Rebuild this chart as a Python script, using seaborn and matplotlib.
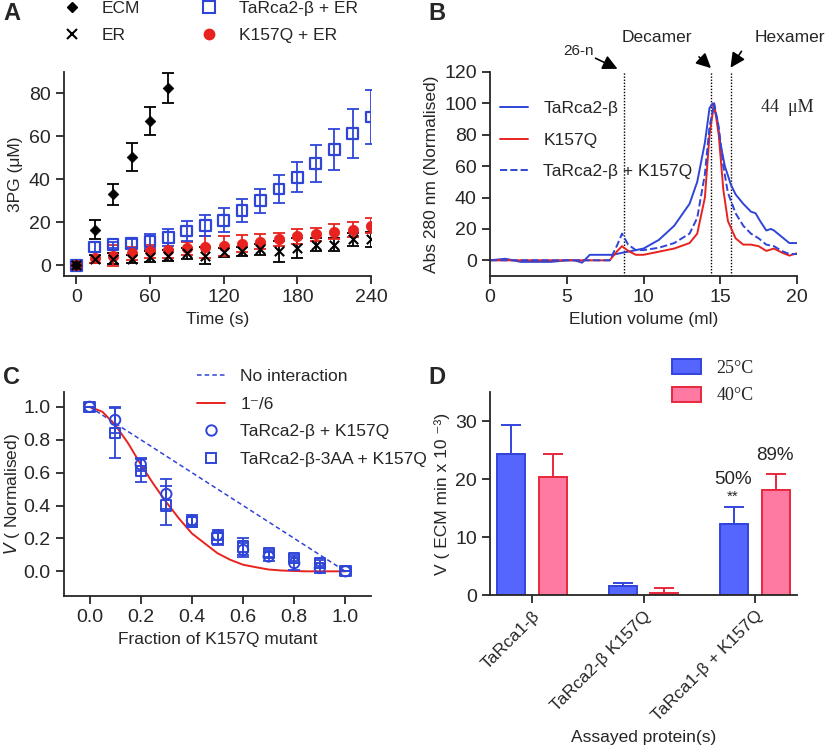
import matplotlib
matplotlib.use("Agg")
import matplotlib.pyplot as plt
from matplotlib.lines import Line2D
from matplotlib.patches import Patch, FancyArrowPatch
import seaborn as sns
import pandas as pd

# ---- data ----
# A: 3PG over time
time_s = [0, 15, 30, 45, 60, 75, 90, 105, 120, 135, 150, 165, 180, 195, 210, 225, 240]
ecm_t = [0, 15, 30, 45, 60, 75]
ecm = [0, 16.5, 33, 50.5, 67, 82.5]
ecm_err = [0, 4.5, 5, 6.5, 6.5, 7]
er = [0, 3, 3, 3, 4, 4.5, 5.5, 4.5, 6, 6.5, 7.5, 6.5, 8, 9.5, 9.5, 12, 12]
er_err = [0, 2, 2.5, 2, 2.5, 2.5, 2.5, 4, 2, 2, 2.5, 5, 4.5, 3, 3, 3, 3.5]
rca2 = [0, 8.5, 9.5, 10, 11, 13, 16, 18.5, 21, 25.5, 30, 35.5, 41, 47.5, 54, 61.5, 69]
rca2_err = [0, 2.5, 1.5, 2, 3.5, 4, 4.5, 5, 5.5, 5.5, 5.5, 6.5, 7, 8.5, 9.5, 11.5, 12.5]
k157q = [0, 3.5, 4.5, 5.5, 6.5, 7, 8, 8.5, 9, 10, 11, 12, 13.5, 14.5, 15.5, 16.5, 18.5]
k157q_err = [0, 2.5, 5, 3, 3, 3.5, 3, 5, 4.5, 4, 3.5, 3, 3.5, 3, 3.5, 3.5, 3.5]

# B: SEC traces
vol_wt = [0, 0.5, 1, 1.5, 2, 3, 4, 5, 5.5, 6, 6.5, 7, 8, 8.7, 9, 10, 11, 12, 13, 13.5, 14, 14.3,
          14.5, 14.8, 15, 15.3, 15.7, 16, 16.5, 17, 17.3, 17.6, 18, 18.3, 18.5, 19, 19.5, 20]
abs_wt = [0, 0.5, 1, 0, -1, -1, -1, 0, 0, -1.5, 3.5, 3.5, 3.5, 5, 5.5, 7.5, 13, 22, 36, 50, 75, 97,
          100, 90, 75, 60, 48, 42, 36, 31, 30, 25, 19, 20, 19, 15, 11, 11]
vol_mut = [0, 2, 4, 6, 7.8, 8.3, 8.6, 9, 9.5, 10, 11, 12, 13, 13.5, 14, 14.3, 14.6, 14.9, 15.2,
           15.5, 16, 16.5, 17, 17.5, 18, 18.5, 19, 19.5, 20]
abs_k157q = [0, 0, 0, 0, 0, 6, 9, 6, 3.5, 3.5, 5.5, 7.5, 11, 17, 40, 80, 100, 80, 45,
             25, 14, 10, 10, 9, 6, 7.5, 5, 3, 4.5]
abs_mix = [0, 0, 0, 0, 0, 10, 17, 10, 6.5, 6.5, 8, 11, 17, 27, 55, 85, 100, 85, 60,
           43, 30, 22, 17, 14, 10, 9, 6, 4, 4]
marker_vols = [8.7, 14.4, 15.7]

# C: activity vs fraction of mutant
frac = [0, 0.1, 0.2, 0.3, 0.4, 0.5, 0.6, 0.7, 0.8, 0.9, 1.0]
v_wt = [1.0, 0.92, 0.65, 0.47, 0.31, 0.22, 0.13, 0.09, 0.05, 0.02, 0.0]
v_wt_err = [0, 0.08, 0.04, 0.09, 0.03, 0.03, 0.04, 0.03, 0.04, 0.03, 0]
v_3aa = [1.0, 0.84, 0.61, 0.40, 0.30, 0.20, 0.15, 0.11, 0.08, 0.05, 0.0]
v_3aa_err = [0, 0.15, 0.07, 0.12, 0.03, 0.04, 0.05, 0.02, 0.02, 0.02, 0]
fit_x = [0, 0.05, 0.1, 0.15, 0.2, 0.25, 0.3, 0.35, 0.4, 0.45, 0.5, 0.55, 0.6, 0.65, 0.7,
         0.75, 0.8, 0.85, 0.9, 0.95, 1.0]
fit_y = [1.0, 0.97, 0.89, 0.78, 0.65, 0.53, 0.42, 0.32, 0.23, 0.17, 0.11, 0.07, 0.04, 0.025,
         0.011, 0.005, 0.002, 0.0, 0.0, 0.0, 0.0]

# D: bars
proteins = ["TaRca1-β", "TaRca2-β K157Q", "TaRca1-β + K157Q"]
temps = ["25°C", "40°C"]
v25 = [24.3, 1.5, 12.2]
v25_err = [5.0, 0.5, 2.9]
v40 = [20.3, 0.3, 18.1]
v40_err = [4.0, 0.9, 2.7]

# ---- style ----
sns.set_style("ticks")
plt.rcParams["font.family"] = ["Liberation Sans", "DejaVu Sans"]
plt.rcParams["font.size"] = 12.5
plt.rcParams["axes.linewidth"] = 1.3
plt.rcParams["xtick.major.width"] = 1.3
plt.rcParams["ytick.major.width"] = 1.3
plt.rcParams["xtick.major.size"] = 6
plt.rcParams["ytick.major.size"] = 6
plt.rcParams["xtick.labelsize"] = 14
plt.rcParams["ytick.labelsize"] = 14

W, H = 827, 753
BLUE = "#2f45d8"
RED = "#e8231f"
SERIF = ["Liberation Serif", "DejaVu Serif"]


def fp(x, y):
    return (x / W, 1 - y / H)


def box(l, t, r, b):
    return [l / W, 1 - b / H, (r - l) / W, (b - t) / H]


fig = plt.figure(figsize=(W / 100, H / 100), dpi=100)
axA = fig.add_axes(box(64, 72, 371, 276))
axB = fig.add_axes(box(490, 72, 797, 276))
axC = fig.add_axes(box(64, 392, 371, 596))
axD = fig.add_axes(box(490, 392, 797, 595))

leg_kw = dict(frameon=False, loc="upper left", bbox_transform=fig.transFigure,
              borderpad=0, borderaxespad=0, fontsize=12.5)

# ---- A ----
eb = dict(fmt="none", elinewidth=1.3, capsize=4, capthick=1.3)
axA.errorbar(time_s, er, yerr=er_err, ecolor="black", **eb)
axA.errorbar(time_s, k157q, yerr=k157q_err, ecolor=RED, **eb)
axA.errorbar(time_s, rca2, yerr=rca2_err, ecolor=BLUE, **eb)
axA.errorbar(ecm_t, ecm, yerr=ecm_err, ecolor="black", **eb)
sns.scatterplot(x=time_s, y=rca2, marker="s", s=60, facecolors="none", edgecolor=BLUE, linewidth=1.6, ax=axA, zorder=3)
sns.scatterplot(x=time_s, y=k157q, marker="o", s=55, color=RED, edgecolor=RED, ax=axA, zorder=4)
sns.scatterplot(x=time_s, y=er, marker="x", s=45, color="black", linewidth=1.5, ax=axA, zorder=5)
sns.scatterplot(x=ecm_t, y=ecm, marker="D", s=30, color="black", edgecolor="black", ax=axA, zorder=5)
axA.set_xlim(-10, 240)
axA.set_ylim(-5, 90)
axA.set_xticks([0, 60, 120, 180, 240])
axA.set_yticks([0, 20, 40, 60, 80])
axA.set_xlabel("Time (s)")
axA.set_ylabel("3PG (μM)")
sns.despine(ax=axA)
handlesA = [
    Line2D([], [], ls="none", marker="D", ms=5, color="black"),
    Line2D([], [], ls="none", marker="x", ms=7, mew=1.5, color="black"),
    Line2D([], [], ls="none", marker="s", ms=8, mfc="none", mec=BLUE, mew=1.5),
    Line2D([], [], ls="none", marker="o", ms=7.5, color=RED),
]
axA.legend(handlesA, ["ECM", "ER", "TaRca2-β + ER", "K157Q + ER"], ncol=2,
           bbox_to_anchor=fp(63, 1), handlelength=1.0, handletextpad=1.2,
           columnspacing=3.5, labelspacing=0.65, **leg_kw)

# ---- B ----
sns.lineplot(x=vol_wt, y=abs_wt, color=BLUE, lw=1.4, ax=axB)
sns.lineplot(x=vol_mut, y=abs_k157q, color=RED, lw=1.4, ax=axB)
sns.lineplot(x=vol_mut, y=abs_mix, color=BLUE, lw=1.4, ls="--", ax=axB)
for v in marker_vols:
    axB.axvline(v, color="black", lw=1.0, ls=(0, (1, 1.2)), zorder=0)
axB.set_xlim(0, 20)
axB.set_ylim(-10, 120)
axB.set_xticks([0, 5, 10, 15, 20])
axB.set_yticks([0, 20, 40, 60, 80, 100, 120])
axB.set_xlabel("Elution volume (ml)")
axB.set_ylabel("Abs 280 nm (Normalised)")
sns.despine(ax=axB)
handlesB = [Line2D([], [], color=BLUE, lw=1.4), Line2D([], [], color=RED, lw=1.4),
            Line2D([], [], color=BLUE, lw=1.4, ls="--")]
axB.legend(handlesB, ["TaRca2-β", "K157Q", "TaRca2-β + K157Q"], bbox_to_anchor=fp(500, 101),
           handlelength=1.6, handletextpad=0.9, labelspacing=0.95, **leg_kw)
fig.text(*fp(787, 108), "44  μM", family=SERIF, fontsize=13, ha="center", va="center")
fig.text(*fp(578, 51), "26-n", fontsize=11, ha="center", va="center")
fig.text(*fp(657, 38), "Decamer", fontsize=12.5, ha="center", va="center")
fig.text(*fp(790, 38), "Hexamer", fontsize=12.5, ha="center", va="center")
for (x0, y0), (x1, y1) in [((593, 57), (620, 70)), ((697, 55), (713, 70)), ((743, 49), (729, 70))]:
    fig.add_artist(FancyArrowPatch(fp(x0, y0), fp(x1, y1), transform=fig.transFigure,
                                   arrowstyle="-|>", color="black", lw=1.2, mutation_scale=22))

# ---- C ----
sns.lineplot(x=[0, 1], y=[1, 0], color=BLUE, lw=1.1, ls=(0, (3, 2)), ax=axC)
sns.lineplot(x=fit_x, y=fit_y, color=RED, lw=1.4, ax=axC)
axC.errorbar(frac, v_wt, yerr=v_wt_err, ecolor=BLUE, **eb)
axC.errorbar(frac, v_3aa, yerr=v_3aa_err, ecolor=BLUE, **eb)
sns.scatterplot(x=frac, y=v_wt, marker="o", s=55, facecolors="none", edgecolor=BLUE, linewidth=1.4, ax=axC, zorder=3)
sns.scatterplot(x=frac, y=v_3aa, marker="s", s=55, facecolors="none", edgecolor=BLUE, linewidth=1.4, ax=axC, zorder=3)
axC.set_xlim(-0.1, 1.1)
axC.set_ylim(-0.15, 1.09)
axC.set_xticks([0, 0.2, 0.4, 0.6, 0.8, 1.0])
axC.set_yticks([0, 0.2, 0.4, 0.6, 0.8, 1.0])
axC.xaxis.set_major_formatter(plt.FormatStrFormatter("%.1f"))
axC.yaxis.set_major_formatter(plt.FormatStrFormatter("%.1f"))
axC.set_xlabel("Fraction of K157Q mutant")
axC.set_ylabel("$V$ ( Normalised)", labelpad=1)
sns.despine(ax=axC)
handlesC = [Line2D([], [], color=BLUE, lw=1.1, ls=(0, (3, 2))), Line2D([], [], color=RED, lw=1.4),
            Line2D([], [], ls="none", marker="o", ms=7.5, mfc="none", mec=BLUE, mew=1.4),
            Line2D([], [], ls="none", marker="s", ms=7.5, mfc="none", mec=BLUE, mew=1.4)]
axC.legend(handlesC, ["No interaction", "1\u207b/6", "TaRca2-β + K157Q", "TaRca2-β-3AA + K157Q"],
           bbox_to_anchor=fp(197, 369), handlelength=1.6, handletextpad=0.9, labelspacing=0.72, **leg_kw)

# ---- D ----
dfD = pd.DataFrame({
    "protein": proteins * 2,
    "temp": [temps[0]] * 3 + [temps[1]] * 3,
    "v": v25 + v40,
})
sns.barplot(data=dfD, x="protein", y="v", hue="temp", palette=["#5566ff", "#ff7aa3"], saturation=1,
            width=0.75, gap=1 / 3, ax=axD, legend=False, errorbar=None, linewidth=1.4)
edges = ["#3344dd", "#e8283c"]
errs = [v25_err, v40_err]
for cont, ec, err in zip(axD.containers, edges, errs):
    for bar, e in zip(cont, err):
        bar.set_edgecolor(ec)
        bar.set_zorder(2)
        cx = bar.get_x() + bar.get_width() / 2
        axD.errorbar(cx, bar.get_height(), yerr=[[0], [e]], fmt="none", ecolor=ec,
                     elinewidth=1.4, capsize=7, capthick=1.4, zorder=1)
axD.set_xlim(-0.377, 2.377)
axD.set_ylim(0, 35)
axD.set_yticks([0, 10, 20, 30])
axD.set_xticks(range(3))
axD.set_xticklabels(proteins, rotation=45, ha="right", rotation_mode="anchor", fontsize=12.5)
axD.set_xlabel("Assayed protein(s)")
axD.set_ylabel("V ( ECM min x 10 \u207b\u00b3)", labelpad=4)
sns.despine(ax=axD)
handlesD = [Patch(facecolor="#5566ff", edgecolor="#3344dd", lw=1.4),
            Patch(facecolor="#ff7aa3", edgecolor="#e8283c", lw=1.4)]
axD.legend(handlesD, temps, frameon=False, loc="upper left", bbox_to_anchor=fp(672, 359),
           bbox_transform=fig.transFigure, borderpad=0, borderaxespad=0,
           prop={"family": SERIF, "size": 13}, handlelength=1.6, handleheight=0.9,
           handletextpad=0.85, labelspacing=0.55)
fig.text(*fp(733, 479), "50%", fontsize=13.5, ha="center", va="center")
fig.text(*fp(733, 497), "**", fontsize=11, ha="center", va="center")
fig.text(*fp(775, 455), "89%", fontsize=13.5, ha="center", va="center")

# panel letters
for lab, (x, y) in zip("ABCD", [(12, 13), (437, 13), (12, 377), (437, 377)]):
    fig.text(*fp(x, y), lab, fontsize=17, fontweight="bold", ha="center", va="center")

fig.savefig("out.png", dpi=100)
